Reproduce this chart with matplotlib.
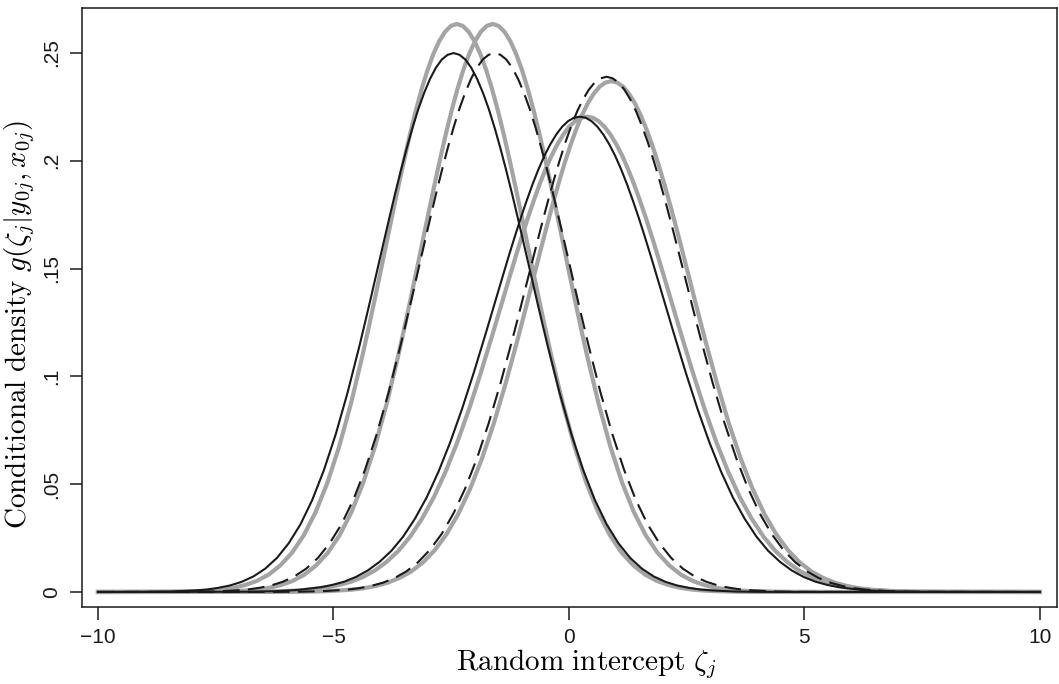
import numpy as np
import matplotlib.pyplot as plt

plt.rcParams["mathtext.fontset"] = "cm"
plt.rcParams["font.family"] = ["Liberation Sans", "DejaVu Sans"]

# distance from each curve's peak (same grid both sides)
offsets = [0, 0.125, 0.25, 0.375, 0.5, 0.625, 0.75, 0.875, 1.0, 1.125, 1.25, 1.375, 1.5,
           1.625, 1.75, 1.875, 2.0, 2.25, 2.5, 2.75, 3.0, 3.25, 3.5, 3.75, 4.0, 4.25, 4.5,
           4.75, 5.0, 5.25, 5.5, 6.0, 6.5, 7.0]

# density at those distances
tall_gray = [.2635, .2626, .2599, .2555, .2495, .2420, .2331, .2230, .2119, .1999, .1874, .1744,
             .1613, .1481, .1351, .1224, .1101, .0873, .0674, .0506, .0370, .0263, .0182, .0123,
             .0080, .0051, .0032, .0019, .0011, .00065, .0004, .0001, .00003, 0]
mid_black = [.2500, .2492, .2470, .2432, .2380, .2315, .2239, .2151, .2054, .1950, .1840, .1725,
             .1607, .1489, .1370, .1254, .1140, .0925, .0733, .0567, .0427, .0314, .0226, .0158,
             .0108, .0072, .0047, .0030, .0019, .0011, .0007, .0002, .00006, .00002]
low_wide = [.2205, .2200, .2184, .2158, .2122, .2077, .2024, .1962, .1893, .1817, .1737, .1652,
            .1564, .1473, .1381, .1289, .1197, .1018, .0849, .0695, .0558, .0439, .0340, .0257,
            .0191, .0140, .0100, .0070, .0048, .0033, .0022, .0009, .00035, .00012]
right_gray = [.2370, .2363, .2344, .2311, .2267, .2211, .2144, .2068, .1984, .1892, .1795, .1693,
              .1588, .1481, .1374, .1268, .1163, .0963, .0779, .0617, .0478, .0362, .0268, .0194,
              .0137, .0095, .0065, .0043, .0028, .00175, .0011, .0004, .00013, .00004]
right_dash = [.2390, .2383, .2364, .2331, .2286, .2230, .2162, .2086, .2000, .1908, .1810, .1707,
              .1601, .1494, .1386, .1278, .1173, .0971, .0786, .0622, .0482, .0365, .0270, .0196,
              .0139, .0096, .0065, .0043, .0028, .00177, .0011, .0004, .00013, .00004]

# (peak location, profile, style)
curves = [
    (-2.38, tall_gray, "gray"),
    (-1.62, tall_gray, "gray"),
    (0.38, low_wide, "gray"),
    (0.90, right_gray, "gray"),
    (-2.45, mid_black, "solid"),
    (0.23, low_wide, "solid"),
    (-1.58, mid_black, "dash"),
    (0.80, right_dash, "dash"),
]

styles = {
    "gray": dict(color="#a4a4a6", lw=3.0, ls="-"),
    "solid": dict(color="#1a1a1a", lw=1.5, ls="-"),
    "dash": dict(color="#1a1a1a", lw=1.5, ls=(0, (8, 4))),
}


def full_curve(mu, prof):
    d = np.array(offsets)
    p = np.array(prof)
    x = np.concatenate([[-10], mu - d[::-1], mu + d[1:], [10]])
    y = np.concatenate([[0], p[::-1], p[1:], [0]])
    return x, y


fig = plt.figure(figsize=(10.59, 6.84), dpi=100)
ax = fig.add_axes([0.0774, 0.1126, 0.9206, 0.8757])

for mu, prof, st in curves:
    x, y = full_curve(mu, prof)
    ax.plot(x, y, solid_joinstyle="round", dash_joinstyle="round", **styles[st])

ax.set_xlim(-10.34, 10.36)
ax.set_ylim(-0.00696, 0.2709)
ax.set_xticks([-10, -5, 0, 5, 10])
ax.set_xticklabels(["\u221210", "\u22125", "0", "5", "10"])
ax.set_yticks([0, .05, .1, .15, .2, .25])
ax.set_yticklabels(["0", ".05", ".1", ".15", ".2", ".25"], rotation=90, va="center")
ax.tick_params(direction="out", length=9, width=1.1, labelsize=15, pad=6, colors="#1a1a1a")
for s in ax.spines.values():
    s.set_linewidth(1.1)
    s.set_color("#1a1a1a")

ax.set_xlabel(r"$\mathrm{Random\ intercept}\ \zeta_j$", fontsize=21)
ax.set_ylabel(r"$\mathrm{Conditional\ density}\ g(\zeta_j|y_{0j},x_{0j})$", fontsize=21)
ax.xaxis.set_label_coords(0.517, -0.068)
ax.yaxis.set_label_coords(-0.046, 0.472)

fig.savefig("out.png", dpi=100)
